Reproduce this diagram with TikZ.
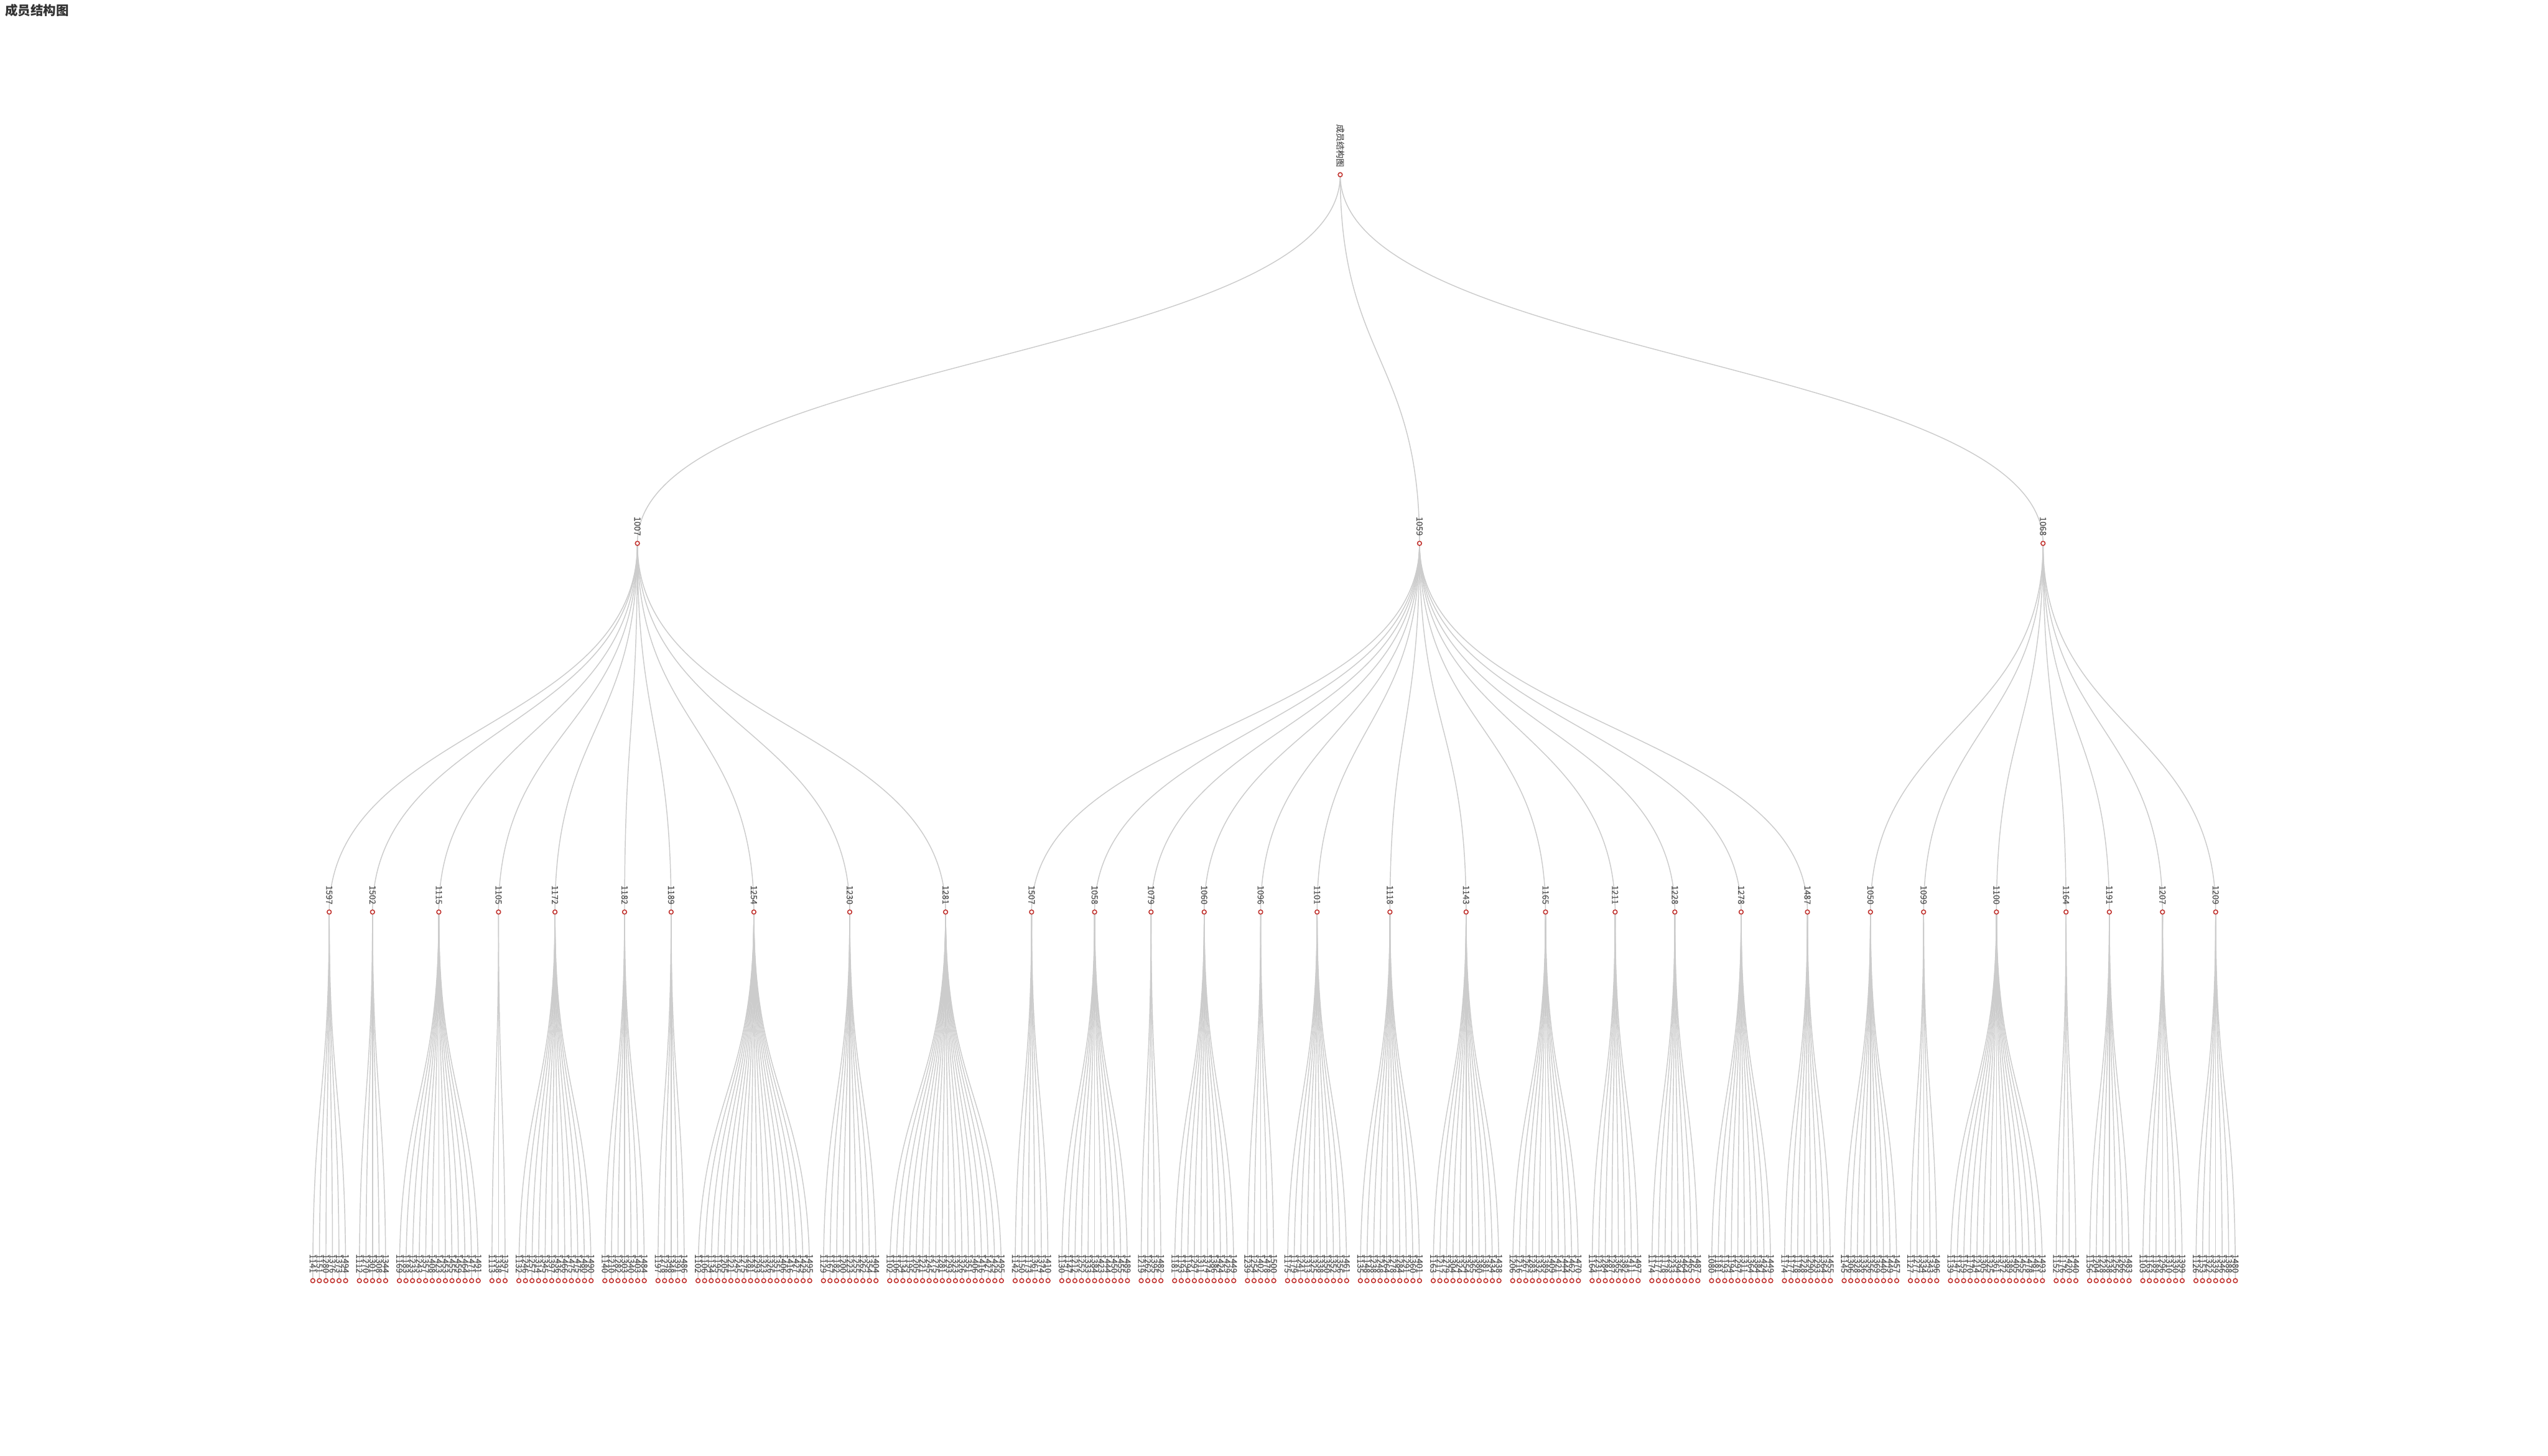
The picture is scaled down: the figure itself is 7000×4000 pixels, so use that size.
\documentclass[tikz,border=0pt]{standalone}
\usepackage{fontspec}
\newfontfamily\cjk{Noto Sans CJK SC}
\newfontfamily\cjklab[FakeBold=0.4]{Noto Sans CJK SC}
\usetikzlibrary{calc}
\pgfdeclarelayer{bglayer}
\pgfdeclarelayer{edgelayer}
\pgfsetlayers{bglayer,edgelayer,main}
\definecolor{dotred}{HTML}{C23531}
\definecolor{edgegray}{HTML}{CCCCCC}
\definecolor{labgray}{HTML}{555555}
\definecolor{titlegray}{HTML}{333333}
\newcount\leafno
\newcount\grpno
\tikzset{
  dot/.style={circle, draw=dotred, fill=white, line width=0.27pt, minimum size=1.15pt, inner sep=0pt, outer sep=0pt},
  lab/.style={anchor=east, rotate=-90, inner sep=0pt, outer sep=0pt, text=labgray, font=\cjklab\fontsize{2.35}{2.6}\selectfont},
  conn/.style={draw=edgegray, line width=0.25pt},
}
\newcommand\curveedge[2]{%
  \path ($(#1.center)!0.5!(#2.center)$) coordinate (cp);
  \draw[conn] (#1.center) .. controls (#1.center |- cp) and (#2.center |- cp) .. (#2.center);
}
\gdef\curx{859.3}
\gdef\pfirst{1}
\gdef\rfirst{1}
\newcommand\leafgroup[2]{%
  \global\advance\grpno by 1
  \xdef\gfx{\curx}%
  \xdef\gfl{\the\numexpr\leafno+1\relax}%
  \foreach \lbl in {#2} {%
    \global\advance\leafno by 1
    \node[dot] (l\the\leafno) at (\curx,3519) {};
    \node[lab] (lt\the\leafno) at (\curx,3498) {\lbl};
    \xdef\glx{\curx}%
    \pgfmathsetmacro\nx{\curx+18.05}%
    \xdef\curx{\nx}%
  }%
  \xdef\gll{\the\leafno}%
  \pgfmathsetmacro\nx{\glx+37.73}%
  \xdef\curx{\nx}%
  \pgfmathsetmacro\xx{(\gfx+\glx)/2}%
  \node[dot] (m\the\grpno) at (\xx,2506) {};
  \node[lab] (mt\the\grpno) at (\xx,2485) {#1};
  \ifnum\pfirst=1 \xdef\pfu{\xx}\xdef\pfg{\the\grpno}\gdef\pfirst{0}\fi
  \xdef\plu{\xx}\xdef\plg{\the\grpno}%
  \begin{pgfonlayer}{edgelayer}
    \foreach \j in {\gfl,...,\gll} {\curveedge{m\the\grpno}{l\j}}
  \end{pgfonlayer}
}
\newcommand\openparent{\gdef\pfirst{1}}
\newcommand\closeparent[2]{%
  \pgfmathsetmacro\xx{(\pfu+\plu)/2}%
  \node[dot] (#1) at (\xx,1493) {};
  \node[lab] (#1t) at (\xx,1472) {#2};
  \ifnum\rfirst=1 \xdef\rfu{\xx}\gdef\rfirst{0}\fi
  \xdef\rlu{\xx}%
  \begin{pgfonlayer}{edgelayer}
    \foreach \j in {\pfg,...,\plg} {\curveedge{#1}{m\j}}
  \end{pgfonlayer}
}
\begin{document}
\begin{tikzpicture}[x=0.1pt,y=-0.1pt]
\useasboundingbox (0,0) rectangle (7000,4000);
\begin{pgfonlayer}{bglayer}
\fill[white] (0,0) rectangle (7000,4000);
\end{pgfonlayer}
\node[anchor=west, inner sep=0pt, text=titlegray, font=\cjk\bfseries\fontsize{3.5}{4}\selectfont] (title) at (12,28.5) {成员结构图};
\openparent
\leafgroup{1597}{1141,1151,1280,1376,1373,1494}
\leafgroup{1502}{1112,1270,1301,1308,1344}
\leafgroup{1115}{1169,1183,1233,1243,1357,1408,1423,1453,1455,1459,1464,1471,1491}
\leafgroup{1105}{1113,1338,1397}
\leafgroup{1172}{1132,1246,1257,1314,1345,1397,1436,1466,1475,1475,1480,1490}
\leafgroup{1182}{1140,1210,1282,1303,1340,1403,1484}
\leafgroup{1189}{1197,1278,1348,1391,1486}
\leafgroup{1254}{1102,1106,1134,1195,1205,1221,1245,1275,1281,1293,1323,1326,1351,1406,1416,1427,1429,1495}
\leafgroup{1230}{1129,1167,1182,1200,1223,1255,1262,1354,1404}
\leafgroup{1281}{1102,1106,1134,1195,1205,1221,1245,1275,1281,1293,1323,1326,1351,1406,1416,1427,1429,1495}
\closeparent{p1}{1007}
\openparent
\leafgroup{1507}{1142,1150,1173,1361,1374,1410}
\leafgroup{1058}{1130,1147,1212,1252,1333,1384,1423,1444,1450,1455,1489}
\leafgroup{1079}{1219,1262,1395,1482}
\leafgroup{1060}{1181,1193,1194,1297,1311,1374,1386,1424,1429,1449}
\leafgroup{1096}{1239,1254,1402,1478,1500}
\leafgroup{1101}{1175,1179,1241,1313,1325,1338,1350,1352,1356,1461}
\leafgroup{1118}{1135,1148,1238,1248,1264,1278,1284,1291,1360,1401}
\leafgroup{1143}{1163,1217,1279,1304,1324,1354,1365,1380,1381,1434,1438}
\leafgroup{1165}{1206,1216,1267,1283,1332,1389,1409,1421,1444,1462,1470}
\leafgroup{1211}{1164,1231,1284,1287,1365,1382,1411,1497}
\leafgroup{1228}{1174,1177,1178,1233,1394,1464,1465,1487}
\leafgroup{1278}{1080,1181,1193,1194,1297,1311,1364,1384,1424,1449}
\leafgroup{1487}{1174,1177,1178,1228,1290,1293,1364,1455}
\closeparent{p2}{1059}
\openparent
\leafgroup{1050}{1145,1306,1328,1336,1356,1369,1440,1449,1457}
\leafgroup{1099}{1127,1277,1334,1343,1496}
\leafgroup{1100}{1139,1147,1159,1170,1214,1305,1325,1361,1372,1389,1405,1455,1478,1481,1493}
\leafgroup{1164}{1152,1176,1420,1440}
\leafgroup{1191}{1156,1204,1228,1238,1256,1266,1483}
\leafgroup{1207}{1103,1163,1189,1296,1310,1330,1399}
\leafgroup{1209}{1126,1153,1322,1339,1346,1388,1480}
\closeparent{p3}{1068}
\pgfmathsetmacro\xx{(\rfu+\rlu)/2}
\node[dot] (root) at (\xx,480) {};
\node[lab] (roott) at (\xx,459) {成员结构图};
\begin{pgfonlayer}{edgelayer}
\curveedge{root}{p1}
\curveedge{root}{p2}
\curveedge{root}{p3}
\end{pgfonlayer}
\end{tikzpicture}
\end{document}
